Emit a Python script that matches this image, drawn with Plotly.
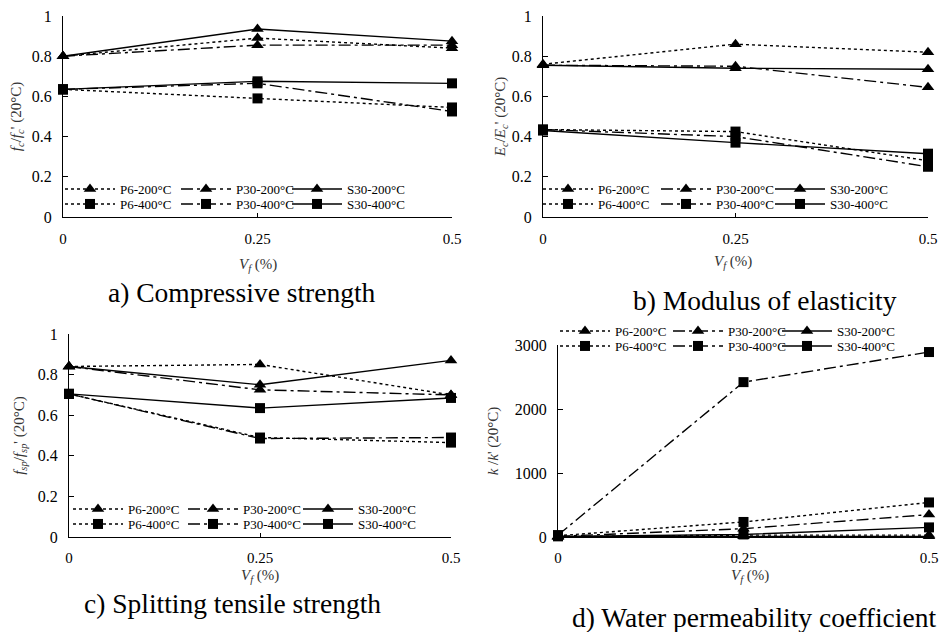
import plotly.graph_objects as go

# ---------------- data ----------------
vf = [0, 0.25, 0.5]
x_tickvals = [0, 0.25, 0.5]
x_ticktext = ["0", "0.25", "0.5"]

series_names = ["P6-200°C", "P30-200°C", "S30-200°C", "P6-400°C", "P30-400°C", "S30-400°C"]

# a) Compressive strength
a_P6_200 = [0.80, 0.89, 0.84]
a_P30_200 = [0.80, 0.855, 0.855]
a_S30_200 = [0.80, 0.935, 0.875]
a_P6_400 = [0.635, 0.59, 0.545]
a_P30_400 = [0.635, 0.665, 0.525]
a_S30_400 = [0.635, 0.675, 0.665]

# b) Modulus of elasticity
b_P6_200 = [0.76, 0.86, 0.82]
b_P30_200 = [0.755, 0.75, 0.645]
b_S30_200 = [0.755, 0.74, 0.735]
b_P6_400 = [0.435, 0.425, 0.28]
b_P30_400 = [0.435, 0.40, 0.25]
b_S30_400 = [0.43, 0.37, 0.315]

# c) Splitting tensile strength
c_P6_200 = [0.84, 0.85, 0.70]
c_P30_200 = [0.84, 0.725, 0.70]
c_S30_200 = [0.84, 0.75, 0.87]
c_P6_400 = [0.705, 0.49, 0.465]
c_P30_400 = [0.705, 0.485, 0.49]
c_S30_400 = [0.705, 0.635, 0.685]

# d) Water permeability coefficient
d_P6_200 = [5, 30, 30]
d_P30_200 = [10, 130, 350]
d_S30_200 = [5, 10, 10]
d_P6_400 = [20, 235, 540]
d_P30_400 = [30, 2420, 2890]
d_S30_400 = [10, 40, 150]

y_ticks_ratio = [0, 0.2, 0.4, 0.6, 0.8, 1]
y_ticks_k = [0, 1000, 2000, 3000]

captions = ["a) Compressive strength", "b) Modulus of elasticity",
            "c) Splitting tensile strength", "d) Water permeability coefficient"]
y_titles = ["<i>f<sub>c</sub></i>/<i>f<sub>c</sub></i>' (20°C)",
            "<i>E<sub>c</sub></i>/<i>E<sub>c</sub></i>' (20°C)",
            "<i>f<sub>sp</sub></i>/<i>f<sub>sp</sub></i>' (20°C)",
            "<i>k</i> /<i>k</i>' (20°C)"]
x_title = "<i>V<sub>f</sub></i> (%)"

# ---------------- layout geometry (page pixels) ----------------
PAGE_MARGIN = 8            # default <body> margin of the html page
W, H = 947 - PAGE_MARGIN, 640 - 2 * PAGE_MARGIN


def px(x):
    return (x - PAGE_MARGIN) / W


def py(y):
    return 1 - (y - PAGE_MARGIN) / H


FONT = "Liberation Serif, Times New Roman, serif"

panel_data = [
    [a_P6_200, a_P30_200, a_S30_200, a_P6_400, a_P30_400, a_S30_400],
    [b_P6_200, b_P30_200, b_S30_200, b_P6_400, b_P30_400, b_S30_400],
    [c_P6_200, c_P30_200, c_S30_200, c_P6_400, c_P30_400, c_S30_400],
    [d_P6_200, d_P30_200, d_S30_200, d_P6_400, d_P30_400, d_S30_400],
]
# plot area: left, right, top, bottom
boxes = [(63, 452, 16, 217), (543, 928, 16, 217), (69, 451, 334, 537), (558, 929, 345, 537)]
yranges = [[0, 1], [0, 1], [0, 1], [0, 3000]]
yticks = [y_ticks_ratio, y_ticks_ratio, y_ticks_ratio, y_ticks_k]
ystandoff = [9, 2, 9, 12]
xlabel_standoff = [8, 8, 7, 7]
# x title: center x, top y
xtitle_pos = [(258, 254), (733, 251), (260, 565), (750, 565)]
# legend: text start x of the 3 columns, y of the 2 rows
legend_cols = [(120, 236, 347), (598, 716, 830), (128, 243, 358), (615, 728, 837)]
legend_rows = [(189, 204), (189, 204), (509, 524), (331, 346)]
ITEM_W = 50
TEXT_OFFSET = ITEM_W + 10
caption_pos = [(242, 293), (765, 300), (232, 603), (754, 617)]

dashes = ["3px,3px", "12px,4px,3px,4px", "solid"]
symbols = ["triangle-up", "square"]

fig = go.Figure()
layout = dict(
    width=W, height=H,
    margin=dict(l=0, r=0, t=0, b=0),
    paper_bgcolor="white", plot_bgcolor="white",
    font=dict(family=FONT, color="black", size=14),
    showlegend=True,
    annotations=[],
)

leg_count = 0
for p in range(4):
    ax = "" if p == 0 else str(p + 1)
    for s, vals in enumerate(panel_data[p]):
        leg = "legend" if leg_count == 0 else "legend" + str(leg_count + 1)
        leg_count += 1
        fig.add_trace(go.Scatter(
            x=vf, y=vals, name=series_names[s], mode="lines+markers",
            xaxis="x" + ax, yaxis="y" + ax, legend=leg, cliponaxis=False,
            line=dict(color="black", width=1.4, dash=dashes[s % 3]),
            marker=dict(symbol=symbols[s // 3], color="black",
                        size=11 if s < 3 else 10),
        ))
        lx = legend_cols[p][s % 3] - TEXT_OFFSET
        ly = legend_rows[p][s // 3]
        layout[leg] = dict(
            x=px(lx), y=py(ly), xanchor="left", yanchor="middle",
            orientation="h", bgcolor="rgba(0,0,0,0)", borderwidth=0,
            itemwidth=ITEM_W, itemclick=False, itemdoubleclick=False,
            font=dict(size=13, family=FONT, color="black"),
        )
    l, r, t, b = boxes[p]
    layout["xaxis" + ax] = dict(
        domain=[px(l), px(r)], anchor="y" + ax, range=[0, 0.5],
        tickvals=x_tickvals, ticktext=x_ticktext,
        showline=True, linecolor="black", linewidth=1,
        ticks="inside", ticklen=4, tickcolor="black",
        showgrid=False, zeroline=False, ticklabelstandoff=xlabel_standoff[p],
        automargin=False, ticklabeloverflow="allow",
        tickfont=dict(size=15, family=FONT, color="black"),
    )
    layout["yaxis" + ax] = dict(
        domain=[py(b), py(t)], anchor="x" + ax, range=yranges[p],
        tickvals=yticks[p],
        showline=True, linecolor="black", linewidth=1,
        ticks="inside", ticklen=5, tickcolor="black",
        showgrid=False, zeroline=False, ticklabelstandoff=7,
        automargin=False, ticklabeloverflow="allow",
        tickfont=dict(size=16, family=FONT, color="black"),
        title=dict(text=y_titles[p], font=dict(size=15, family=FONT, color="#333"),
                   standoff=ystandoff[p]),
    )
    tx, ty = xtitle_pos[p]
    layout["annotations"].append(dict(
        text=x_title, x=px(tx), y=py(ty), xref="paper", yref="paper",
        xanchor="center", yanchor="top", showarrow=False,
        font=dict(size=15, family=FONT, color="#333"),
    ))
    cx, cy = caption_pos[p]
    layout["annotations"].append(dict(
        text=captions[p], x=px(cx), y=py(cy), xref="paper", yref="paper",
        xanchor="center", yanchor="middle", showarrow=False,
        font=dict(size=27.5, family=FONT, color="black"),
    ))

fig.update_layout(**layout)
fig.write_html("out.html")
